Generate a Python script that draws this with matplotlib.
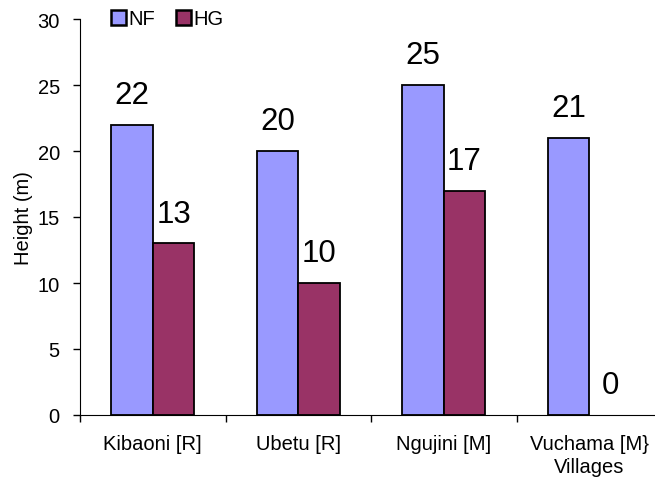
import numpy as np
import matplotlib
matplotlib.use("Agg")
import matplotlib.pyplot as plt

# -----------------------------
# Data
# -----------------------------
villages = ["Kibaoni [R]", "Ubetu [R]", "Ngujini [M]", "Vuchama [M}\nVillages"]
nf_height = [22, 20, 25, 21]
hg_height = [13, 10, 17, 0]

plt.rcParams["font.family"] = ["Liberation Sans", "DejaVu Sans"]

fig = plt.figure(figsize=(6.55, 4.81), dpi=100)
ax = fig.add_axes([80 / 655, 65 / 481, 582 / 655, 396 / 481])

x = np.arange(len(villages))
w = 1 / 3.5

bars_nf = ax.bar(x - w / 2, nf_height, w, color="#9999FF", edgecolor="black",
                 linewidth=1.3, label="NF")
bars_hg = ax.bar(x + w / 2, hg_height, w, color="#993366", edgecolor="black",
                 linewidth=1.3, label="HG")

# value labels above bars, hide outline of empty bars
for bars, vals in [(bars_nf, nf_height), (bars_hg, hg_height)]:
    for b, v in zip(bars, vals):
        if v == 0:
            b.set_linewidth(0)
        ax.annotate(str(v), (b.get_x() + b.get_width() / 2, v),
                    xytext=(0, 15.5), textcoords="offset points",
                    ha="center", va="baseline", fontsize=22.5)

ax.set_xlim(-0.5, len(villages) - 0.5)
ax.set_ylim(0, 30)
ax.set_yticks(range(0, 31, 5))
ax.set_xticks(x)
ax.set_xticklabels(villages, fontsize=14.5, linespacing=1.25)
ax.set_xticks(np.arange(-0.5, len(villages), 1), minor=True)
ax.tick_params(axis="x", which="major", length=0, pad=14)
ax.tick_params(axis="x", which="minor", length=5, width=1, direction="out")
ax.tick_params(axis="y", length=5, width=1, labelsize=14.5, pad=9.5)

ax.set_ylabel("Height (m)", fontsize=14.5, labelpad=3)

ax.spines["top"].set_visible(False)
ax.spines["right"].set_visible(False)
ax.spines["left"].set_clip_on(False)

leg = ax.legend(loc="upper left", bbox_to_anchor=(0.04, 1.045), ncol=2, frameon=False,
                fontsize=14.5, handlelength=0.75, handleheight=0.75, handletextpad=0.1,
                columnspacing=1.05, borderaxespad=0)
for h in leg.legend_handles:
    h.set_linewidth(1.8)

fig.savefig("out.png", dpi=100)
